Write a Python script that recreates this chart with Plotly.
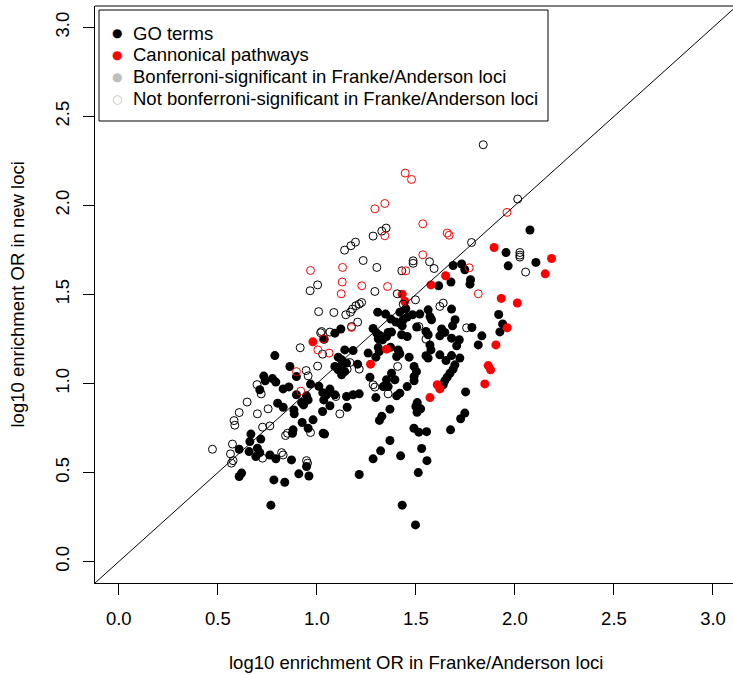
import plotly.graph_objects as go

# GO terms, Bonferroni-significant in Franke/Anderson loci (filled black)
go_sig_x = [2.076, 1.955, 1.966, 2.106, 1.688, 1.731, 1.747, 1.677, 1.776, 1.773, 1.680, 1.918, 1.698, 1.685,
            1.938, 1.924, 1.783, 1.630, 1.646, 1.680, 1.719, 1.706, 1.833, 1.815, 1.722, 1.680, 1.652, 1.697,
            1.688, 1.672, 1.658, 1.646, 1.638, 1.751, 1.747, 1.726, 1.675,
            1.066, 1.029, 1.153, 1.039, 1.369, 1.316, 1.328, 1.500, 1.524, 1.506, 1.490, 1.515, 1.554, 1.369,
            1.322, 1.284, 1.423, 1.529, 1.556, 1.512, 1.214, 1.431, 1.498,
            0.830, 0.884, 0.886, 0.933, 0.926, 0.981, 0.956, 0.880, 0.877, 1.032, 0.667, 0.717, 0.662, 0.700,
            0.712, 0.658, 0.692, 0.763, 0.793, 0.872, 0.608, 0.948, 0.909, 0.960, 0.620, 0.608, 0.783, 0.838, 0.768,
            0.788, 0.864, 0.897, 0.732, 0.776, 0.793, 0.739, 0.712, 0.830, 0.859, 0.968, 1.010, 0.897, 0.948,
            0.956, 1.030, 0.802, 0.923,
            1.615, 1.307, 1.347, 1.374, 1.419, 1.449, 1.399, 1.436, 1.456, 1.483, 1.520, 1.562, 1.571, 1.579,
            1.121, 1.091, 1.284, 1.302, 1.318, 1.310, 1.332, 1.352, 1.360, 1.377, 1.419, 1.431, 1.456, 1.428,
            1.504, 1.551, 1.562, 1.571, 1.576, 1.621, 1.037, 1.141, 1.183, 1.108, 1.125, 1.150, 1.120, 1.091,
            1.108, 1.141, 1.125, 1.206, 1.259, 1.298, 1.315, 1.310, 1.372, 1.411, 1.419, 1.466, 1.403, 1.491,
            1.503, 1.491, 1.491, 1.551, 1.562, 1.621, 1.268, 1.352, 1.377, 1.394, 1.335, 1.360, 1.456, 1.507,
            1.066, 1.091, 1.049, 1.035, 1.150, 1.183, 1.214, 1.298, 1.419, 1.403]
go_sig_y = [1.862, 1.736, 1.661, 1.680, 1.663, 1.671, 1.639, 1.570, 1.583, 1.558, 1.418, 1.388, 1.358, 1.324,
            1.335, 1.290, 1.315, 1.306, 1.287, 1.255, 1.246, 1.212, 1.268, 1.217, 1.143, 1.157, 1.129, 1.105,
            1.081, 1.058, 1.036, 1.015, 0.993, 0.953, 0.834, 0.802, 0.740,
            0.875, 0.843, 0.867, 0.716, 0.856, 0.793, 0.816, 0.871, 0.858, 0.839, 0.749, 0.727, 0.730, 0.680,
            0.622, 0.577, 0.594, 0.635, 0.567, 0.500, 0.489, 0.317, 0.206,
            0.867, 0.852, 0.830, 0.880, 0.781, 0.796, 0.749, 0.740, 0.721, 0.721, 0.716, 0.688, 0.674, 0.637,
            0.612, 0.618, 0.590, 0.599, 0.577, 0.571, 0.631, 0.534, 0.493, 0.481, 0.497, 0.478, 0.459, 0.446, 0.317,
            1.157, 1.096, 1.039, 1.042, 1.028, 1.008, 1.015, 0.965, 0.970, 0.981, 0.997, 0.985, 0.937, 0.931,
            0.908, 0.949, 0.890, 0.893,
            1.549, 1.401, 1.390, 1.362, 1.401, 1.420, 1.345, 1.358, 1.373, 1.386, 1.390, 1.414, 1.376, 1.358,
            1.306, 1.283, 1.309, 1.283, 1.270, 1.251, 1.246, 1.264, 1.287, 1.289, 1.339, 1.324, 1.264, 1.274,
            1.317, 1.292, 1.274, 1.217, 1.189, 1.268, 1.249, 1.189, 1.185, 1.148, 1.133, 1.115, 1.096, 1.096,
            1.077, 1.067, 1.049, 1.109, 1.171, 1.148, 1.180, 1.202, 1.204, 1.189, 1.167, 1.148, 1.152, 1.096,
            1.067, 1.039, 1.015, 1.156, 1.143, 1.161, 1.036, 1.021, 1.058, 1.021, 0.983, 0.983, 0.983, 0.893,
            0.969, 0.937, 0.937, 0.908, 0.927, 0.937, 0.942, 0.921, 0.946, 0.931]

# Canonical pathways, Bonferroni-significant (filled red)
cp_sig_x = [1.895, 2.185, 2.153, 1.650, 1.931, 2.012, 1.961, 1.904, 1.865, 1.877, 1.848, 1.621, 1.608,
            1.571, 0.980, 1.431, 1.444, 1.576, 1.271, 1.352]
cp_sig_y = [1.764, 1.702, 1.616, 1.605, 1.478, 1.452, 1.313, 1.217, 1.101, 1.077, 0.998, 0.970, 0.993,
            0.921, 1.234, 1.502, 1.461, 1.554, 1.109, 1.193]

# GO terms, not Bonferroni-significant (open black)
go_ns_x = [1.350, 1.328, 1.284, 1.195, 1.172, 1.140, 1.234, 1.303, 1.486, 1.486, 1.569, 1.592, 1.429,
           1.840, 2.014, 1.781, 2.025, 2.025, 2.025, 2.054,
           1.004, 0.966, 1.009, 1.019, 1.029, 0.916, 1.004, 0.946, 0.956, 0.698, 0.719, 0.648,
           0.754, 0.700, 0.608, 0.582, 0.586, 0.968, 0.852, 0.842, 0.763, 0.726, 0.726, 0.822, 0.830,
           0.574, 0.473, 0.564, 0.577, 0.569, 0.948, 0.953, 1.116, 1.638, 1.756,
           1.293, 1.406, 1.498, 1.226, 1.214, 1.197, 1.180, 1.170, 1.146, 1.086, 1.436, 1.621, 1.175, 1.206,
           1.066, 1.024, 1.515, 1.551, 1.153, 1.167, 1.214, 1.408, 1.284, 1.293, 1.096, 1.360]
go_ns_y = [1.873, 1.856, 1.828, 1.794, 1.774, 1.749, 1.691, 1.652, 1.689, 1.675, 1.684, 1.646, 1.633,
           2.341, 2.036, 1.792, 1.736, 1.721, 1.710, 1.626,
           1.554, 1.521, 1.404, 1.285, 1.165, 1.201, 1.098, 1.073, 1.043, 0.994, 0.942, 0.896,
           0.858, 0.830, 0.837, 0.792, 0.766, 0.725, 0.721, 0.708, 0.762, 0.755, 0.581, 0.612, 0.599,
           0.660, 0.631, 0.605, 0.567, 0.553, 0.567, 0.553, 0.830, 1.452, 1.313,
           1.517, 1.504, 1.470, 1.455, 1.446, 1.437, 1.418, 1.401, 1.386, 1.399, 1.446, 1.433, 1.320, 1.345,
           1.289, 1.292, 1.320, 1.249, 1.081, 1.118, 1.081, 1.096, 0.993, 0.980, 0.927, 0.942]

# Canonical pathways, not Bonferroni-significant (open red)
cp_ns_x = [0.968, 1.446, 1.478, 1.343, 1.293, 1.343, 1.535, 1.658, 1.668, 1.535, 1.130, 1.449, 1.960,
           1.769, 1.032, 1.005, 0.897, 0.919, 1.815, 1.128, 1.123, 1.227, 1.357, 1.175, 1.062]
cp_ns_y = [1.635, 2.182, 2.146, 2.011, 1.981, 1.830, 1.897, 1.845, 1.833, 1.723, 1.652, 1.633, 1.961,
           1.650, 1.251, 1.189, 1.067, 0.957, 1.504, 1.570, 1.504, 1.549, 1.545, 1.315, 1.171]

tick_vals = [0.0, 0.5, 1.0, 1.5, 2.0, 2.5, 3.0]
tick_text = ["0.0", "0.5", "1.0", "1.5", "2.0", "2.5", "3.0"]
legend_labels = ["GO terms", "Cannonical pathways",
                 "Bonferroni-significant in Franke/Anderson loci",
                 "Not bonferroni-significant in Franke/Anderson loci"]
legend_glyphs = ["\u25CF", "\u25CF", "\u25CF", "\u25CB"]
legend_colors = ["black", "#FF0000", "#BEBEBE", "#BEBEBE"]

FONT = "Liberation Sans, Arial, Helvetica, sans-serif"
FS = 18.5
RED = "#FF0000"

fig = go.Figure()
fig.add_trace(go.Scatter(x=go_sig_x, y=go_sig_y, mode="markers", showlegend=False,
                         marker=dict(symbol="circle", size=9, color="black", line=dict(width=0))))
fig.add_trace(go.Scatter(x=cp_sig_x, y=cp_sig_y, mode="markers", showlegend=False,
                         marker=dict(symbol="circle", size=9, color=RED, line=dict(width=0))))
fig.add_trace(go.Scatter(x=go_ns_x, y=go_ns_y, mode="markers", showlegend=False,
                         marker=dict(symbol="circle-open", size=8, color="black", line=dict(width=1, color="black"))))
fig.add_trace(go.Scatter(x=cp_ns_x, y=cp_ns_y, mode="markers", showlegend=False,
                         marker=dict(symbol="circle-open", size=8, color=RED, line=dict(width=1, color=RED))))

# y = x reference line
fig.add_shape(type="line", xref="x", yref="y", x0=-0.12, y0=-0.12, x1=3.12, y1=3.12,
              line=dict(color="black", width=1))
# top border of box
fig.add_shape(type="line", xref="paper", yref="paper", x0=0, y0=1, x1=1, y1=1,
              line=dict(color="black", width=1))

# legend box (drawn manually, R-style)
PW, PH, PL, PT = 638.0, 577.0, 95.0, 6.0
def px_x(p):
    return (p - PL) / PW
def px_y(p):
    return (PT + PH - p) / PH

fig.add_shape(type="rect", xref="paper", yref="paper",
              x0=px_x(99), x1=px_x(548), y0=px_y(121), y1=px_y(10),
              line=dict(color="black", width=1), fillcolor="white", layer="above")

annotations = [
    dict(text="log10 enrichment OR in Franke/Anderson loci", xref="paper", yref="paper",
         x=0.503, y=-0.137, xanchor="center", yanchor="middle", showarrow=False,
         font=dict(family=FONT, size=FS, color="black")),
    dict(text="log10 enrichment OR in new loci", xref="paper", yref="paper",
         x=-0.1207, y=0.5, xanchor="center", yanchor="middle", textangle=-90, showarrow=False,
         font=dict(family=FONT, size=FS, color="black")),
]
row_px = [33, 55, 77, 99]
for i, (lab, gl, col) in enumerate(zip(legend_labels, legend_glyphs, legend_colors)):
    annotations.append(dict(text=gl, xref="paper", yref="paper", x=px_x(116.5), y=px_y(row_px[i]),
                            xanchor="center", yanchor="middle", showarrow=False,
                            font=dict(family="DejaVu Sans", size=12, color=col)))
    annotations.append(dict(text=lab, xref="paper", yref="paper", x=px_x(131), y=px_y(row_px[i]),
                            xanchor="left", yanchor="middle", showarrow=False,
                            font=dict(family=FONT, size=FS, color="black")))

fig.update_layout(
    width=733, height=675,
    margin=dict(l=95, r=0, t=6, b=92),
    paper_bgcolor="white", plot_bgcolor="white",
    font=dict(family=FONT, size=FS, color="black"),
    showlegend=False,
    xaxis=dict(range=[-0.12, 3.101], tickvals=tick_vals, ticktext=tick_text,
               showgrid=False, zeroline=False, showline=True, linecolor="black", linewidth=1,
               ticks="outside", ticklen=11, tickcolor="black", tickwidth=1, ticklabelstandoff=8,
               tickfont=dict(family=FONT, size=FS, color="black")),
    yaxis=dict(range=[-0.12, 3.12], tickvals=tick_vals, ticktext=tick_text,
               showgrid=False, zeroline=False, showline=True, linecolor="black", linewidth=1,
               ticks="outside", ticklen=11, tickcolor="black", tickwidth=1, tickangle=-90,
               ticklabelstandoff=7,
               tickfont=dict(family=FONT, size=FS, color="black")),
    annotations=annotations,
)

fig.write_html("out.html")
